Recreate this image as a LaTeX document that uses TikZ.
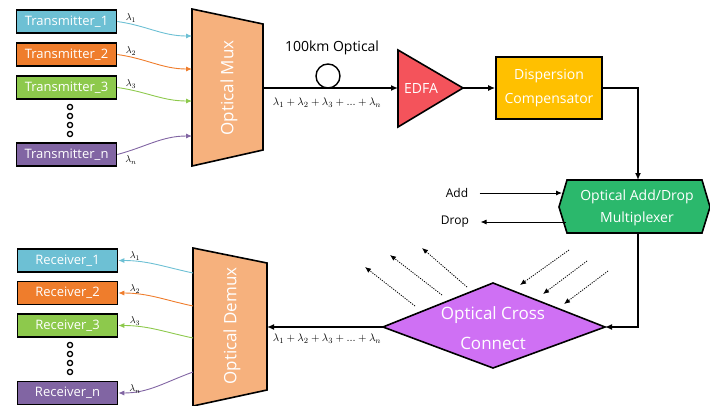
\documentclass[tikz,border=0pt]{standalone}
\usepackage{fontspec}
\setmainfont{Open Sans}
\usetikzlibrary{arrows.meta}

\definecolor{chblue}{HTML}{6DC0D4}
\definecolor{chorange}{HTML}{EF7D2C}
\definecolor{chgreen}{HTML}{8DC94C}
\definecolor{chpurple}{HTML}{8165A3}
\definecolor{muxorange}{HTML}{F6B17D}
\definecolor{edfared}{HTML}{F4535B}
\definecolor{dcyellow}{HTML}{FFC000}
\definecolor{oadmgreen}{HTML}{2BB86C}
\definecolor{oxcpurple}{HTML}{CF70F4}

\tikzset{
  unit/.style={draw=black,line width=1.6pt,text=white,minimum width=100pt,minimum height=23pt,inner sep=0pt,font=\fontsize{13}{15}\selectfont},
  block/.style={draw=black,line width=1.6pt},
  blocktext/.style={text=white,align=center,inner sep=0pt},
  flow/.style={line width=1.4pt,-{Latex[length=7pt,width=6pt]}},
  signal/.style={line width=0.9pt,-{Latex[length=6pt,width=5pt]}},
  thinflow/.style={line width=0.9pt,-{Latex[length=6pt,width=5pt]}},
  hint/.style={line width=0.8pt,dash pattern=on 1.2pt off 1.2pt,-{Latex[length=6pt,width=5pt]}},
  lam/.style={font=\fontsize{10}{12}\selectfont,inner sep=0pt},
  lamsum/.style={font=\fontsize{11}{13}\selectfont,inner sep=0pt},
  dot/.style={line width=1.3pt,fill=white}
}

\begin{document}
\begin{tikzpicture}[x=1pt,y=-1pt]
\useasboundingbox (0,0) rectangle (710,405);

% Transmitters and mux
\node[unit,fill=chblue]   (tx1) at (66.5,21.5)  {Transmitter\_1};
\node[unit,fill=chorange] (tx2) at (66.5,54.5)  {Transmitter\_2};
\node[unit,fill=chgreen]  (tx3) at (66.5,87.5)  {Transmitter\_3};
\node[unit,fill=chpurple] (txn) at (66.5,154.5) {Transmitter\_n};
\foreach \y in {107,116,125,134} \draw[dot] (70,\y) circle (2.6);

\draw[block,fill=muxorange] (192,9) -- (263,24) -- (263,150) -- (192,166) -- cycle;
\node[blocktext,rotate=90,font=\fontsize{17}{19}\selectfont] (mux) at (229,88) {Optical Mux};
\coordinate (mux in1) at (192,36);
\coordinate (mux in2) at (192,69);
\coordinate (mux in3) at (192,101);
\coordinate (mux inn) at (192,136);
\coordinate (mux out) at (263,88);

\draw[signal,chblue]   (tx1.east) to[out=-8,in=180] (mux in1);
\draw[signal,chorange] (tx2.east) to[out=-8,in=180] (mux in2);
\draw[signal,chgreen]  (tx3.east) to[out=-8,in=180] (mux in3);
\draw[signal,chpurple] (txn.east) to[out=15,in=180] (mux inn);
\node[lam] (l1) at (131,18)  {$\lambda_1$};
\node[lam] (l2) at (131,51)  {$\lambda_2$};
\node[lam] (l3) at (131,84)  {$\lambda_3$};
\node[lam] (ln) at (131,160) {$\lambda_n$};

% Fibre link and EDFA
\draw[block,fill=edfared] (398,50) -- (463,88) -- (398,127) -- cycle;
\node[blocktext,font=\fontsize{14}{16}\selectfont] (edfa) at (421,88) {EDFA};
\coordinate (edfa in) at (398,88);
\coordinate (edfa out) at (463,88);
\draw[flow] (mux out) -- (edfa in);
\draw[line width=1.4pt] (328,76) circle (12);
\node[font=\fontsize{14}{16}\selectfont] (fibre) at (332,48) {100km Optical};
\node[lamsum] (sum1) at (327,103) {$\lambda_1+\lambda_2+\lambda_3+...+\lambda_n$};

% Dispersion compensator
\node[block,blocktext,fill=dcyellow,minimum width=106pt,minimum height=62pt,font=\fontsize{14}{24}\selectfont] (dc) at (549,88) {Dispersion\\Compensator};
\draw[flow] (edfa out) -- (dc.west);

% Add/drop multiplexer
\draw[block,fill=oadmgreen] (559,207) -- (567,180) -- (702,180) -- (710,207) -- (702,233) -- (567,233) -- cycle;
\node[blocktext,font=\fontsize{14}{22}\selectfont] (oadm) at (637,208) {Optical Add/Drop\\Multiplexer};
\coordinate (oadm top) at (638,180);
\coordinate (oadm bottom) at (638,233);
\coordinate (add end) at (562,193);
\coordinate (drop start) at (566,222);
\draw[flow] (dc.east) -| (oadm top);
\node[font=\fontsize{12}{14}\selectfont,anchor=base] (add) at (457,197) {Add};
\node[font=\fontsize{12}{14}\selectfont] (drop) at (455,222) {Drop};
\draw[thinflow,shorten <=8pt] (add.east|-add end) -- (add end);
\draw[thinflow,shorten >=8pt] (drop start) -- (drop.east|-drop start);

% Optical cross connect
\draw[block,fill=oxcpurple] (383,327) -- (493,283) -- (605,327) -- (493,368) -- cycle;
\node[blocktext,font=\fontsize{17}{30}\selectfont] (oxc) at (493,328) {Optical Cross\\Connect};
\coordinate (oxc east) at (605,327);
\coordinate (oxc west) at (383,327);
\draw[flow] (oadm bottom) |- (oxc east);
\foreach \a/\b in {{415,306}/{365,267},{442,295}/{390,255},{467,287}/{422,248},
                   {569,250}/{520,285},{587,261}/{543,294},{608,271}/{564,304}}
  \draw[hint] (\a) -- (\b);

% Demux and receivers
\draw[block,fill=muxorange] (193,248) -- (267,263) -- (267,390) -- (193,406) -- cycle;
\node[blocktext,rotate=90,font=\fontsize{17}{19}\selectfont] (demux) at (232,326) {Optical Demux};
\coordinate (demux in) at (267,327);
\coordinate (demux out1) at (193,273);
\coordinate (demux out2) at (193,306);
\coordinate (demux out3) at (193,338);
\coordinate (demux outn) at (193,372);
\draw[flow] (oxc west) -- (demux in);
\node[lamsum] (sum2) at (327,339) {$\lambda_1+\lambda_2+\lambda_3+...+\lambda_n$};

\node[unit,fill=chblue]   (rx1) at (67.5,260.5) {Receiver\_1};
\node[unit,fill=chorange] (rx2) at (67.5,293)   {Receiver\_2};
\node[unit,fill=chgreen]  (rx3) at (67.5,325.5) {Receiver\_3};
\node[unit,fill=chpurple] (rxn) at (67.5,393)   {Receiver\_n};
\foreach \y in {345,354,363,372} \draw[dot] (70,\y) circle (2.6);

\draw[signal,chblue]   (demux out1) to[out=168,in=0] (rx1.east);
\draw[signal,chorange] (demux out2) to[out=168,in=0] (rx2.east);
\draw[signal,chgreen]  (demux out3) to[out=168,in=0] (rx3.east);
\draw[signal,chpurple] (demux outn) to[out=200,in=0] (rxn.east);
\node[lam] (r1) at (135,256) {$\lambda_1$};
\node[lam] (r2) at (135,289) {$\lambda_2$};
\node[lam] (r3) at (135,321) {$\lambda_3$};
\node[lam] (rn) at (135,389) {$\lambda_n$};
\end{tikzpicture}
\end{document}
